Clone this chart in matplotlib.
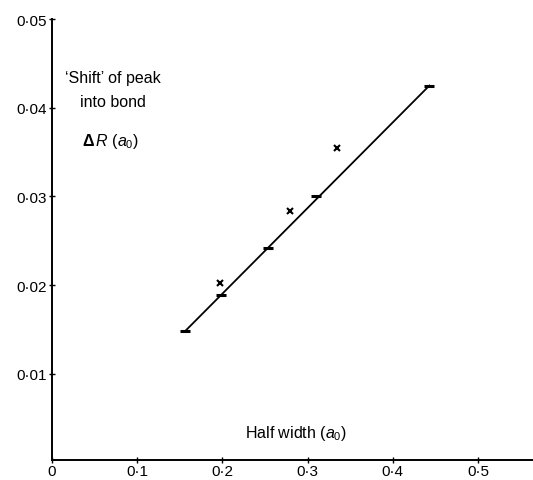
import matplotlib.pyplot as plt

plt.rcParams['font.family'] = ['Liberation Sans', 'DejaVu Sans']
plt.rcParams['mathtext.fontset'] = 'custom'
plt.rcParams['mathtext.it'] = 'Liberation Sans:italic'
plt.rcParams['mathtext.rm'] = 'Liberation Sans'
plt.rcParams['mathtext.bf'] = 'Liberation Sans:bold'

# fitted points (dashes) and measured points (crosses)
fit_x = [0.156, 0.198, 0.253, 0.310, 0.443]
fit_y = [0.0148, 0.0189, 0.0242, 0.0300, 0.0425]
cross_x = [0.197, 0.279, 0.335]
cross_y = [0.0202, 0.0284, 0.0355]

xticks = [0, 0.1, 0.2, 0.3, 0.4, 0.5]
xlabels = ['0', '0·1', '0·2', '0·3', '0·4', '0·5']
yticks = [0.01, 0.02, 0.03, 0.04, 0.05]
ylabels = ['0·01', '0·02', '0·03', '0·04', '0·05']

fig = plt.figure(figsize=(5.33, 4.81), dpi=100)
ax = fig.add_axes([0.0976, 0.0416, 0.9024, 0.9168])

ax.plot([fit_x[0], fit_x[-1]], [fit_y[0], fit_y[-1]], color='black', lw=1.3)
ax.plot(fit_x, fit_y, ls='none', marker='_', ms=7, mew=2.2, color='black')
ax.plot(cross_x, cross_y, ls='none', marker='x', ms=5, mew=1.5, color='black')

ax.set_xlim(0, 0.5646)
ax.set_ylim(0.0003, 0.05)
ax.set_xticks(xticks)
ax.set_xticklabels(xlabels)
ax.set_yticks(yticks)
ax.set_yticklabels(ylabels)
ax.tick_params(direction='inout', length=4, width=1, labelsize=11)
ax.tick_params(axis='x', pad=1)
ax.tick_params(axis='y', pad=2)

for s in ['top', 'right']:
    ax.spines[s].set_visible(False)
for s in ['left', 'bottom']:
    ax.spines[s].set_linewidth(1.4)

ax.text(0.0153, 0.0429, "\u2018Shift\u2019 of peak", fontsize=11.5)
ax.text(0.033, 0.0402, "into bond", fontsize=11.5)
ax.text(0.035, 0.0358, r"$\mathbf{\Delta}\,R\ (a_0)$", fontsize=11.5)
ax.text(0.2864, 0.0029, r"Half width ($a_0$)", fontsize=11.5, ha='center')

fig.savefig('out.png', dpi=100)
